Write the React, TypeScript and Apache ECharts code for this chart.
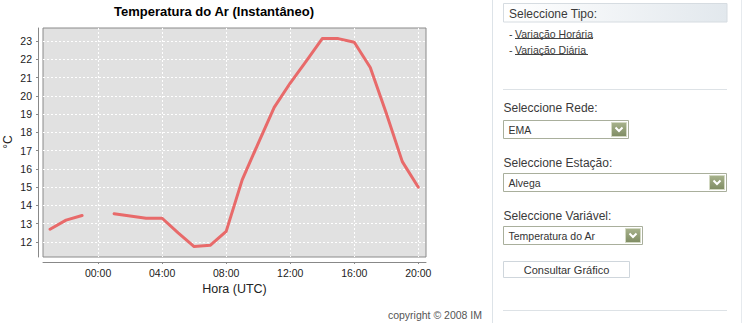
import React, { useEffect, useRef } from "react";
import * as echarts from "echarts";

// ---- data ----
const hours = [-3, -2, -1, 0, 1, 2, 3, 4, 5, 6, 7, 8, 9, 10, 11, 12, 13, 14, 15, 16, 17, 18, 19, 20];
const temps: (number | null)[] = [
  12.7, 13.2, 13.45, null, 13.55, 13.42, 13.3, 13.3, 12.5, 11.75, 11.82, 12.58,
  15.4, 17.4, 19.37, 20.7, 21.9, 23.13, 23.13, 22.93, 21.55, 19.05, 16.4, 15.0,
];
const xTicks = [0, 4, 8, 12, 16, 20];
const yTicks = [12, 13, 14, 15, 16, 17, 18, 19, 20, 21, 22, 23];
const chartTitle = "Temperatura do Ar (Instantâneo)";
const xName = "Hora (UTC)";
const yName = "°C";
const copyright = "copyright © 2008 IM";
const tipoHeader = "Seleccione Tipo:";
const tipoLinks = ["Variação Horária", "Variação Diária"];
const redeLabel = "Seleccione Rede:";
const redeValue = "EMA";
const estacaoLabel = "Seleccione Estação:";
const estacaoValue = "Alvega";
const variavelLabel = "Seleccione Variável:";
const variavelValue = "Temperatura do Ar";
const buttonLabel = "Consultar Gráfico";

const FONT = '"Liberation Sans", Arial, sans-serif';

function selectBox(x: number, y: number, w: number, h: number, value: string): any[] {
  const bx = x + w - 17;
  const by = y + 2;
  return [
    {
      type: "rect",
      shape: { x, y, width: w, height: h },
      style: { fill: "#ffffff", stroke: "#a9af9c", lineWidth: 1 },
    },
    {
      type: "text",
      x: x + 5,
      y: y + h / 2,
      style: { text: value, fill: "#333333", fontSize: 10.5, fontFamily: FONT, verticalAlign: "middle", align: "left" },
    },
    {
      type: "rect",
      shape: { x: bx, y: by, width: 15, height: h - 4 },
      style: {
        fill: new echarts.graphic.LinearGradient(0, 0, 0, 1, [
          { offset: 0, color: "#a7b28c" },
          { offset: 1, color: "#7f8c63" },
        ]),
        stroke: "#d3d9c3",
        lineWidth: 1,
      },
    },
    {
      type: "polyline",
      shape: { points: [[bx + 4, by + 5], [bx + 7.5, by + 8.5], [bx + 11, by + 5]] },
      style: { stroke: "#ffffff", lineWidth: 2, fill: null },
    },
  ];
}

function labelText(x: number, y: number, text: string, size = 12): any {
  return {
    type: "text",
    x,
    y,
    style: { text, fill: "#3a3a3a", fontSize: size, fontFamily: FONT, verticalAlign: "middle", align: "left" },
  };
}

export default function App() {
  const ref = useRef<HTMLDivElement>(null);
  useEffect(() => {
    document.body.style.margin = "0";
    const chart = echarts.init(ref.current!, null, { renderer: "svg" });
    const seriesData = hours.map((h, i) => [h, temps[i] === null ? "-" : temps[i]]);

    const graphic: any[] = [
      {
        type: "text",
        x: 214,
        y: 11,
        style: { text: chartTitle, fill: "#000000", fontSize: 13, fontWeight: "bold", fontFamily: FONT, align: "center", verticalAlign: "middle" },
      },
      {
        type: "text",
        x: 8,
        y: 142,
        rotation: Math.PI / 2,
        style: { text: yName, fill: "#222222", fontSize: 12, fontFamily: FONT, align: "center", verticalAlign: "middle" },
      },
      {
        type: "text",
        x: 482,
        y: 315,
        style: { text: copyright, fill: "#555555", fontSize: 10.5, fontFamily: FONT, align: "right", verticalAlign: "middle" },
      },
      { type: "line", shape: { x1: 492.5, y1: 0, x2: 492.5, y2: 323 }, style: { stroke: "#dde3e8", lineWidth: 1 } },
      { type: "line", shape: { x1: 741.5, y1: 0, x2: 741.5, y2: 323 }, style: { stroke: "#e6eaee", lineWidth: 1 } },
      {
        type: "rect",
        shape: { x: 503.5, y: 3.5, width: 223.5, height: 18.5 },
        style: {
          fill: new echarts.graphic.LinearGradient(0, 0, 1, 0, [
            { offset: 0, color: "#ffffff" },
            { offset: 1, color: "#e2e8ed" },
          ]),
          stroke: "#d6dce1",
          lineWidth: 1,
        },
      },
      labelText(509, 13.5, tipoHeader),
      labelText(509, 34, "- ", 10.5),
      labelText(515, 34, tipoLinks[0], 10.5),
      { type: "line", shape: { x1: 515, y1: 38.5, x2: 593, y2: 38.5 }, style: { stroke: "#444444", lineWidth: 1 } },
      labelText(509, 50, "- ", 10.5),
      labelText(515, 50, tipoLinks[1], 10.5),
      { type: "line", shape: { x1: 515, y1: 54.5, x2: 588, y2: 54.5 }, style: { stroke: "#444444", lineWidth: 1 } },
      { type: "line", shape: { x1: 503, y1: 89.5, x2: 727, y2: 89.5 }, style: { stroke: "#dde2e6", lineWidth: 1 } },
      labelText(503.5, 108, redeLabel),
      ...selectBox(503.5, 120.5, 125, 18, redeValue),
      labelText(503.5, 163, estacaoLabel),
      ...selectBox(503.5, 173.5, 223, 18, estacaoValue),
      labelText(503.5, 216, variavelLabel),
      ...selectBox(503.5, 226.5, 139, 18, variavelValue),
      {
        type: "rect",
        shape: { x: 503.5, y: 261.5, width: 126, height: 16 },
        style: { fill: "#ffffff", stroke: "#cfd6dc", lineWidth: 1 },
      },
      {
        type: "text",
        x: 566.5,
        y: 269.5,
        style: { text: buttonLabel, fill: "#333333", fontSize: 11, fontFamily: FONT, align: "center", verticalAlign: "middle" },
      },
      { type: "line", shape: { x1: 503, y1: 310.5, x2: 727, y2: 310.5 }, style: { stroke: "#dde2e6", lineWidth: 1 } },
    ];

    chart.setOption({
      animation: false,
      backgroundColor: "#ffffff",
      grid: {
        left: 43,
        right: 319,
        top: 28,
        bottom: 66,
        show: true,
        containLabel: false,
        outerBoundsMode: "none",
        backgroundColor: "#e1e1e1",
        borderColor: "#8a8a8a",
        borderWidth: 1,
      },
      xAxis: {
        type: "value",
        min: -3.44,
        max: 20.48,
        offset: 5,
        name: xName,
        nameLocation: "middle",
        nameGap: 20,
        nameTextStyle: { fontSize: 12.5, color: "#222222", fontFamily: FONT, verticalAlign: "top" },
        axisLine: { show: true, onZero: false, lineStyle: { color: "#888888" } },
        axisTick: { show: true, length: 2, customValues: xTicks, lineStyle: { color: "#888888" } },
        axisLabel: {
          customValues: xTicks,
          margin: 5,
          fontSize: 10.5,
          color: "#222222",
          fontFamily: FONT,
          formatter: (v: number) => String(v).padStart(2, "0") + ":00",
        },
        splitLine: { show: true, lineStyle: { color: "#ffffff", type: [2, 2], width: 1 } },
      },
      yAxis: {
        type: "value",
        min: 11.18,
        max: 23.71,
        offset: 5,
        axisLine: { show: true, onZero: false, lineStyle: { color: "#888888" } },
        axisTick: { show: true, length: 2, customValues: yTicks, lineStyle: { color: "#888888" } },
        axisLabel: { customValues: yTicks, margin: 6, fontSize: 10.5, color: "#222222", fontFamily: FONT },
        splitLine: { show: true, lineStyle: { color: "#ffffff", type: [2, 2], width: 1 } },
      },
      graphic,
      series: [
        {
          type: "line",
          data: seriesData,
          showSymbol: false,
          connectNulls: false,
          lineStyle: { color: "#e86a6a", width: 3, cap: "round", join: "round" },
          itemStyle: { color: "#e86a6a" },
          z: 5,
        },
      ],
    });
    return () => chart.dispose();
  }, []);
  return <div ref={ref} style={{ width: 745, height: 323 }} />;
}
